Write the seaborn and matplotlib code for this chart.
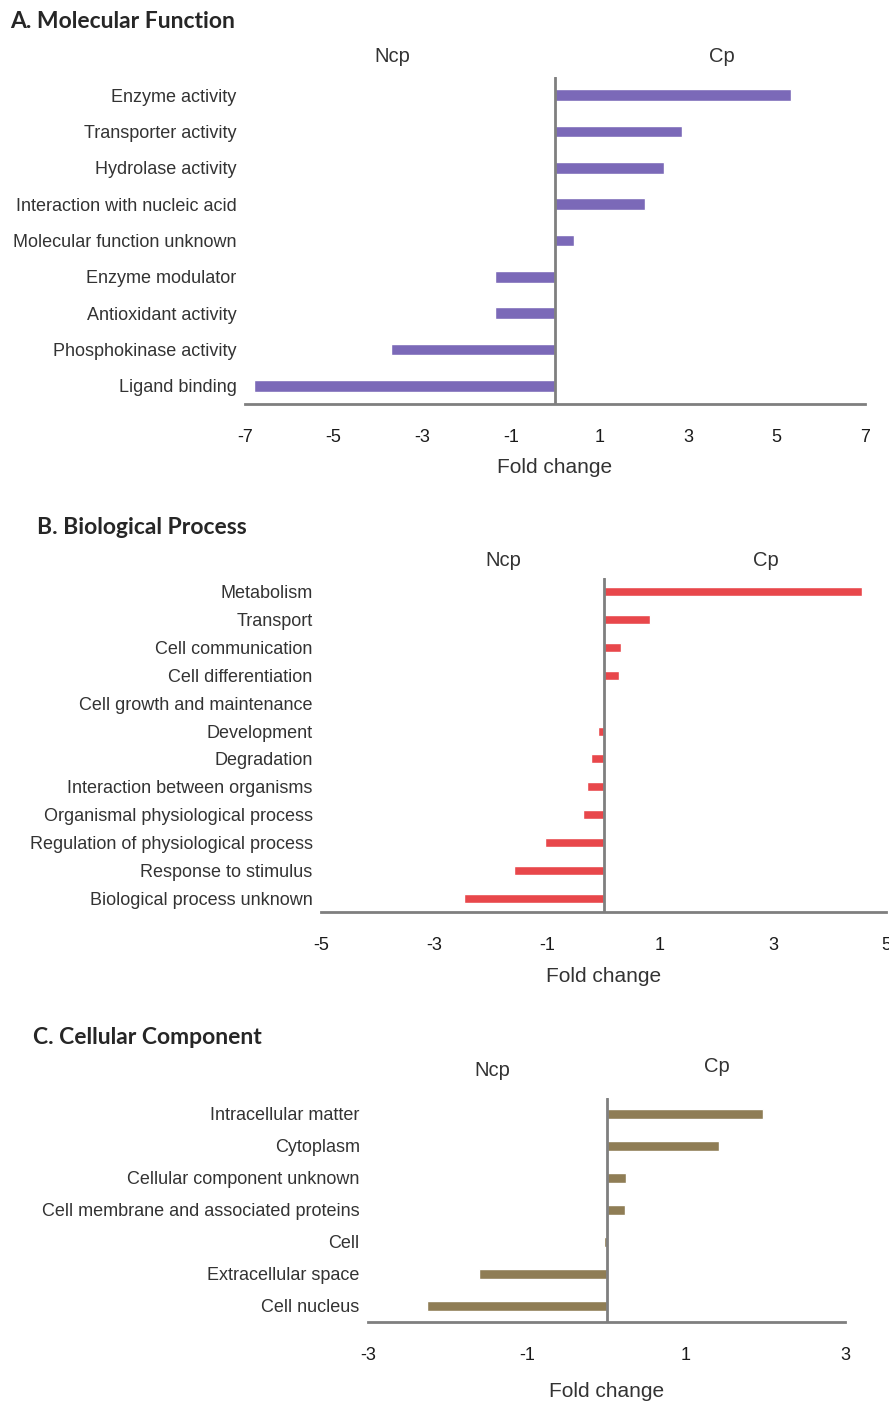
import matplotlib
matplotlib.use("Agg")
import matplotlib.pyplot as plt
import seaborn as sns
import pandas as pd

# ---- data -------------------------------------------------------------
mf_terms = ["Enzyme activity", "Transporter activity", "Hydrolase activity",
            "Interaction with nucleic acid", "Molecular function unknown",
            "Enzyme modulator", "Antioxidant activity", "Phosphokinase activity",
            "Ligand binding"]
mf_fold = [5.33, 2.87, 2.46, 2.03, 0.43, -1.35, -1.35, -3.71, -6.8]

bp_terms = ["Metabolism", "Transport", "Cell communication", "Cell differentiation",
            "Cell growth and maintenance", "Development", "Degradation",
            "Interaction between organisms", "Organismal physiological process",
            "Regulation of physiological process", "Response to stimulus",
            "Biological process unknown"]
bp_fold = [4.58, 0.83, 0.31, 0.27, 0.0, -0.10, -0.22, -0.29, -0.37, -1.04, -1.59, -2.47]

cc_terms = ["Intracellular matter", "Cytoplasm", "Cellular component unknown",
            "Cell membrane and associated proteins", "Cell", "Extracellular space",
            "Cell nucleus"]
cc_fold = [1.97, 1.42, 0.25, 0.23, -0.03, -1.60, -2.26]

mf_ticks = [-7, -5, -3, -1, 1, 3, 5, 7]
bp_ticks = [-5, -3, -1, 1, 3, 5]
cc_ticks = [-3, -1, 1, 3]

# ---- styling ----------------------------------------------------------
sns.set_style("white")
plt.rcParams["font.family"] = ["Liberation Sans", "DejaVu Sans"]

W, H = 889, 1405
fig = plt.figure(figsize=(W / 100, H / 100), dpi=100)


def px_axes(left, right, top, bottom):
    return fig.add_axes([left / W, 1 - bottom / H, (right - left) / W, (bottom - top) / H])


def px_text(x, y, s, **kw):
    fig.text(x / W, 1 - y / H, s, **kw)


AXIS_GREY = "#7f7f7f"

panels = [
    dict(terms=mf_terms, fold=mf_fold, ticks=mf_ticks, color="#7b69b8",
         box=(245, 865, 77, 404), title="A. Molecular Function", title_xy=(10, 21),
         ncp=(392, 57), cp=(722, 57), xlabel_pad=9),
    dict(terms=bp_terms, fold=bp_fold, ticks=bp_ticks, color="#e8474b",
         box=(321, 886, 578, 912), title="B. Biological Process", title_xy=(37, 528),
         ncp=(503, 560), cp=(766, 560), xlabel_pad=9),
    dict(terms=cc_terms, fold=cc_fold, ticks=cc_ticks, color="#8f7d55",
         box=(368, 845, 1098, 1322), title="C. Cellular Component", title_xy=(33, 1038),
         ncp=(492, 1070), cp=(717, 1067), xlabel_pad=13),
]

for p in panels:
    ax = px_axes(*p["box"])
    df = pd.DataFrame({"term": p["terms"], "fold": p["fold"]})
    sns.barplot(data=df, x="fold", y="term", color=p["color"], width=0.32,
                saturation=1, ax=ax)
    ax.set_xlim(p["ticks"][0], p["ticks"][-1])
    ax.set_xticks(p["ticks"])
    ax.set_xticklabels([str(t) for t in p["ticks"]], fontsize=13)
    ax.axvline(0, color=AXIS_GREY, lw=2, zorder=3)
    for side in ("top", "right", "left"):
        ax.spines[side].set_visible(False)
    ax.spines["bottom"].set_color(AXIS_GREY)
    ax.spines["bottom"].set_linewidth(2)
    ax.tick_params(axis="x", direction="out", length=3, width=1.2,
                   color=AXIS_GREY, pad=15, labelcolor="#1a1a1a")
    ax.tick_params(axis="y", length=0, pad=6, labelsize=13, labelcolor="#333333")
    ax.set_ylabel("")
    ax.set_xlabel("Fold change", fontsize=15, color="#333333", labelpad=p["xlabel_pad"])
    ax.grid(False)

    px_text(*p["title_xy"], p["title"], family=["Lato", "DejaVu Sans"], weight="bold",
            fontsize=16.5, color="#262626", ha="left", va="center")
    px_text(*p["ncp"], "Ncp", fontsize=14.5, color="#333333", ha="center", va="center")
    px_text(*p["cp"], "Cp", fontsize=14.5, color="#333333", ha="center", va="center")

fig.savefig("out.png", dpi=100, facecolor="white")
